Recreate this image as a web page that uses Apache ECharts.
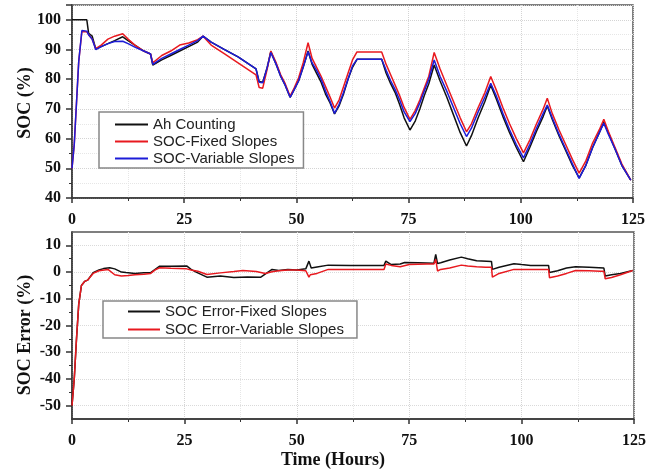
<!DOCTYPE html>
<html>
<head>
<meta charset="utf-8">
<script src="https://cdn.jsdelivr.net/npm/echarts@6/dist/echarts.min.js"></script>
<style>html,body{margin:0;padding:0;background:#fff}#c{width:671px;height:473px}</style>
</head>
<body>
<div id="c"></div>
<script>
// ---- Top panel: SOC (%) vs time (hours) ----
const socTime = [0, 0.5, 1, 1.5, 2.2, 3.3, 3.7, 4.5, 5.3,
  6.5, 8, 9.5, 11.3, 12.5,
  14, 16, 17.5, 18, 20, 22, 24, 26, 28, 29.2,
  31, 34, 37, 40, 41, 41.7, 42.5, 43.5, 44.3, 45.5,
  46.5, 47.5, 48.6, 49.5, 50.5, 51.5, 52.6, 53.5, 54.5, 55.5,
  56.5, 57.5, 58.5, 59.5, 60.5, 61.5, 62.5, 63.5, 69, 70,
  71, 72, 73, 74, 75.3, 76.5, 77.5, 78.5, 79.5, 80.7,
  82, 83.5, 85, 86.5, 87.9, 89, 90.5, 92, 93.3, 94.5,
  96, 97.5, 99, 100.6, 102, 103.5, 105, 105.9, 107, 108.5,
  110, 111.5, 113, 114.5, 116, 117.5, 118.5, 119.5, 121, 122.5,
  124.5];
const socAh = [100, 100, 100, 100, 100, 100, 95.5, 94.5, 90.2,
  91, 92, 93, 94.3, 93,
  91.5, 89.5, 88.5, 84.8, 86.5, 88, 89.5, 91, 92.5, 94.5,
  92.5, 90, 87.5, 84.5, 83.5, 79.2, 79, 84, 89.3, 85,
  81, 78, 73.9, 76.5, 79.5, 84, 89.5, 85, 82, 79,
  75, 72, 68.3, 71, 75, 80, 84, 86.7, 86.7, 82,
  78.5, 75.5, 71.5, 67, 62.9, 66, 70, 74.5, 78.5, 84.8,
  79.5, 74, 68, 62, 57.5, 61, 67, 72.5, 78, 73.5,
  67.5, 62, 57, 52.2, 57, 62.5, 67.5, 71, 66.5, 61,
  56, 51, 46.8, 51, 57, 62, 65.5, 62, 56.5, 51,
  46];
const socFixed = [50, 58, 72, 86, 96, 96, 95, 93.5, 90.3,
  91.5, 93.5, 94.5, 95.3, 93.5,
  91.5, 89.5, 88.5, 85.5, 88, 89.5, 91.5, 92.2, 93.3, 94.5,
  91.5, 88.5, 85.5, 82.5, 81.5, 77.2, 77, 83.5, 89.5, 85.5,
  81.5, 78.5, 74.3, 77, 80.5, 85.5, 92.3, 87, 84, 81,
  77.5, 74, 70.3, 73, 77.5, 82, 86.5, 89.2, 89.2, 85,
  81.5, 78, 74.5, 70.5, 66.5, 69.5, 73, 77, 81, 89,
  83.5, 78, 72.5, 67, 62.3, 65, 70.5, 75.5, 80.9, 76.5,
  70.5, 65, 60, 55.2, 59.5, 65, 70, 73.6, 68.5, 63,
  58, 53, 48.4, 52.5, 58.5, 63, 66.5, 62.5, 57, 51.5,
  46];
const socVariable = [50, 58, 72, 86, 96.4, 96.2, 95, 93.5, 90,
  91, 92, 92.7, 92.8, 92,
  90.8, 89.5, 88.5, 85, 87, 88.5, 90, 91.5, 93, 94.5,
  92.5, 90, 87.5, 84.5, 83.5, 79, 78.8, 84, 89, 85,
  81, 78, 73.9, 76.5, 79.5, 84, 89.3, 85.5, 83, 80,
  76, 72.5, 68.5, 71.5, 75.5, 80, 84.5, 86.7, 86.7, 83,
  79.5, 76.5, 73, 69, 65.7, 68.5, 72, 76, 80, 86.5,
  81, 76, 70.5, 65, 60.7, 63.5, 69, 74, 78.6, 74.5,
  68.5, 63, 58, 53.5, 58, 63.5, 68.5, 71.3, 67, 61.5,
  56.5, 51.5, 46.6, 51, 57, 62, 65.2, 61.5, 56.5, 51,
  46];

// ---- Bottom panel: SOC Error (%) ----
const errFixedTime = [0, 0.5, 1, 1.5, 2.1, 2.8, 3.5, 4.7, 6, 7,
  8.4, 9.5, 11, 12, 14, 16, 17.5, 18.5, 19.5, 22,
  25.5, 26.5, 27.5, 30, 33, 36, 39, 42, 44.5, 46,
  48, 50, 52, 52.7, 53.2, 54.5, 57, 62, 69.4, 69.8,
  71, 73, 74, 77, 80.5, 80.9, 81.3, 82, 84, 86.6,
  88, 90, 93.3, 93.5, 95, 98.3, 100, 102, 106, 106.2,
  108, 110, 112, 115, 118.3, 118.6, 120, 122, 124.7];
const errFixed = [-50, -40, -25, -12, -5, -3.5, -3, -0.2, 0.8, 1.3,
  1.6, 1.2, 0, -0.2, -0.5, -0.3, -0.2, 1, 2.2, 2.2,
  2.3, 1, 0.1, -1.9, -1.5, -2, -1.8, -1.9, 1, 0.6,
  1, 0.8, 1.2, 4.1, 1.5, 1.9, 2.6, 2.5, 2.5, 4.1,
  2.8, 3, 3.6, 3.5, 3.3, 6.6, 3.2, 3.5, 4.5, 5.6,
  5, 4.2, 4, 1, 1.8, 3.1, 2.8, 2.5, 2.5, -0.2,
  0.5, 1.5, 2, 1.8, 1.5, -1.5, -1, -0.5, 0.6];
const errVarTime = [0, 0.5, 1, 1.5, 2.1, 2.8, 3.5, 4.7, 6, 8,
  9.5, 11, 12.5, 14, 16, 17.5, 18.5, 19.5, 22, 25.5,
  26.5, 28, 30, 33, 36, 38, 41, 43, 44.5, 46,
  48, 50, 52, 52.7, 53, 54.5, 57, 69.4, 69.8, 71,
  73, 75, 79, 80.5, 80.9, 81.3, 82, 84, 86.6, 88,
  90, 92, 93.3, 93.5, 95, 98.3, 104, 106, 106.2, 108,
  110, 112, 115, 117.5, 118.3, 118.6, 120, 122, 124.7];
const errVariable = [-50, -40, -25, -12, -5, -3.5, -3, -0.5, 0.5, 1,
  -1, -1.5, -1.3, -1, -0.8, -0.5, 0.8, 1.6, 1.4, 1.2,
  0.8, 0.3, -0.9, -0.3, 0.2, 0.6, 0.2, -0.5, 0.1, 0.5,
  0.8, 0.8, 0.5, -1.9, -1, -0.5, 1, 1, 3, 2.5,
  2, 2.8, 3, 3, 4.8, 0.4, 1, 1.5, 2.6, 2.3,
  2, 1.8, 1.8, -1.9, -0.5, 1, 1, 1, -2.1, -1.5,
  -0.5, 0.6, 0.5, 0.3, 0.3, -2.5, -2, -1, 0.6];

// ---- Axis ticks ----
const timeTicks = [0, 25, 50, 75, 100, 125];
const socTicks = [40, 50, 60, 70, 80, 90, 100];
const errTicks = [-50, -40, -30, -20, -10, 0, 10];
const errMinorTicks = [-45, -35, -25, -15, -5, 5];

const names = {
  ah: 'Ah Counting', fixed: 'SOC-Fixed Slopes', variable: 'SOC-Variable Slopes',
  eFixed: 'SOC Error-Fixed Slopes', eVar: 'SOC Error-Variable Slopes'
};
const colors = { black: '#111111', red: '#e8191f', blue: '#1c1cd8' };

const zip = (xs, ys) => xs.map((x, i) => [x, ys[i]]);

const serif = 'Liberation Serif, Times New Roman, serif';
const sans = 'Liberation Sans, Arial, sans-serif';
const axisColor = '#333';

function xAxisCfg(gridIndex) {
  return {
    type: 'value', gridIndex, min: 0, max: 125, interval: 25,
    axisLine: { show: true, onZero: false, lineStyle: { color: axisColor, width: 1.5 } },
    axisTick: { show: true, length: 5, lineStyle: { color: axisColor, width: 1.5 } },
    minorTick: { show: true, splitNumber: 2, length: 3, lineStyle: { color: axisColor } },
    axisLabel: { margin: 14, fontFamily: serif, fontWeight: 'bold', fontSize: 16, color: '#111',
      customValues: timeTicks },
    splitLine: { show: true, lineStyle: { type: 'dotted', color: '#d4d4d4' } },
    minorSplitLine: { show: true, lineStyle: { type: 'dotted', color: '#e6e6e6' } }
  };
}

const chart = echarts.init(document.getElementById('c'), null, { renderer: 'canvas' });
chart.setOption({
  backgroundColor: '#fff',
  animation: false,
  grid: [
    { left: 72, right: 38, top: 5, height: 193, show: true, borderColor: '#555', borderWidth: 1.5 },
    { left: 72, right: 37, top: 232, height: 187, show: true, borderColor: '#555', borderWidth: 1.5 }
  ],
  xAxis: [xAxisCfg(0), xAxisCfg(1)],
  yAxis: [
    {
      type: 'value', gridIndex: 0, min: 40, max: 105, interval: 10, position: 'left',
      axisLine: { show: true, lineStyle: { color: axisColor, width: 1.5 } },
      axisTick: { show: true, length: 6, lineStyle: { color: axisColor, width: 1.5 } },
      minorTick: { show: true, splitNumber: 2, length: 3, lineStyle: { color: axisColor } },
      axisLabel: { margin: 11, fontFamily: serif, fontWeight: 'bold', fontSize: 16, color: '#111',
        customValues: socTicks },
      splitLine: { show: true, lineStyle: { type: 'dotted', color: '#d4d4d4' } },
      minorSplitLine: { show: true, lineStyle: { type: 'dotted', color: '#e6e6e6' } }
    },
    {
      type: 'value', gridIndex: 1, min: -55, max: 15, interval: 5, position: 'left',
      axisLine: { show: true, lineStyle: { color: axisColor, width: 1.5 } },
      axisTick: { show: true, length: 6, lineStyle: { color: axisColor, width: 1.5 }, customValues: errTicks },
      axisLabel: { margin: 11, fontFamily: serif, fontWeight: 'bold', fontSize: 16, color: '#111',
        customValues: errTicks },
      splitLine: { show: true, lineStyle: { type: 'dotted', color: '#dadada' } }
    },
    {
      type: 'value', gridIndex: 1, min: -55, max: 15, interval: 5, position: 'left', offset: 0,
      axisLine: { show: false },
      axisTick: { show: true, length: 3, lineStyle: { color: axisColor }, customValues: errMinorTicks },
      axisLabel: { show: false },
      splitLine: { show: false }
    }
  ],
  legend: [
    {
      data: [names.ah, names.fixed, names.variable],
      orient: 'vertical', left: 99, top: 112, icon: 'rect',
      padding: [5, 9, 2, 16], itemGap: 2, itemWidth: 33, itemHeight: 2,
      borderColor: '#888', borderWidth: 1.5, backgroundColor: '#fff',
      textStyle: { fontFamily: sans, fontSize: 15, color: '#222', lineHeight: 15 }
    },
    {
      data: [names.eFixed, names.eVar],
      orient: 'vertical', left: 103, top: 301, icon: 'rect',
      padding: [3, 13, 1, 25], itemGap: 3, itemWidth: 32, itemHeight: 2,
      borderColor: '#888', borderWidth: 1.5, backgroundColor: '#fff',
      textStyle: { fontFamily: sans, fontSize: 15, color: '#222', lineHeight: 15 }
    }
  ],
  graphic: [
    { type: 'text', x: 25, y: 103, rotation: Math.PI / 2,
      style: { text: 'SOC (%)', font: 'bold 18px ' + serif, fill: '#111', align: 'center', verticalAlign: 'middle' } },
    { type: 'text', x: 25, y: 335, rotation: Math.PI / 2,
      style: { text: 'SOC Error (%)', font: 'bold 18px ' + serif, fill: '#111', align: 'center', verticalAlign: 'middle' } },
    { type: 'text', x: 333, y: 460,
      style: { text: 'Time (Hours)', font: 'bold 18px ' + serif, fill: '#111', align: 'center', verticalAlign: 'middle' } }
  ],
  series: [
    { name: names.ah, type: 'line', xAxisIndex: 0, yAxisIndex: 0, symbol: 'none',
      data: zip(socTime, socAh), lineStyle: { color: colors.black, width: 1.5 }, itemStyle: { color: colors.black } },
    { name: names.fixed, type: 'line', xAxisIndex: 0, yAxisIndex: 0, symbol: 'none',
      data: zip(socTime, socFixed), lineStyle: { color: colors.red, width: 1.5 }, itemStyle: { color: colors.red } },
    { name: names.variable, type: 'line', xAxisIndex: 0, yAxisIndex: 0, symbol: 'none',
      data: zip(socTime, socVariable), lineStyle: { color: colors.blue, width: 1.5 }, itemStyle: { color: colors.blue } },
    { name: names.eFixed, type: 'line', xAxisIndex: 1, yAxisIndex: 1, symbol: 'none',
      data: zip(errFixedTime, errFixed), lineStyle: { color: colors.black, width: 1.5 }, itemStyle: { color: colors.black } },
    { name: names.eVar, type: 'line', xAxisIndex: 1, yAxisIndex: 1, symbol: 'none',
      data: zip(errVarTime, errVariable), lineStyle: { color: colors.red, width: 1.5 }, itemStyle: { color: colors.red } }
  ]
});
</script>
</body>
</html>
